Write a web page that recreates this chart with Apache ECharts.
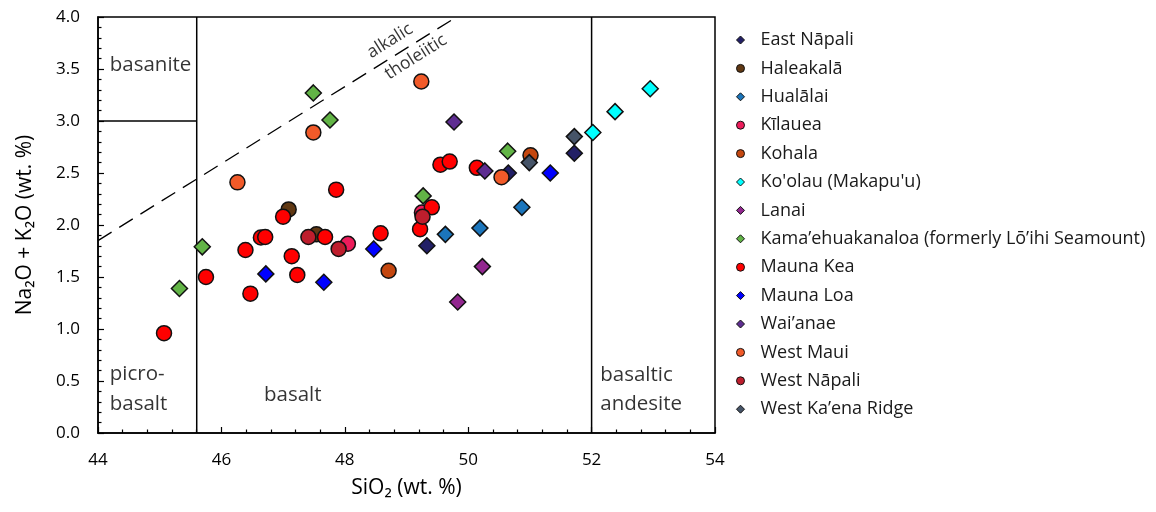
<!DOCTYPE html>
<html><head><meta charset="utf-8">
<script src="https://cdn.jsdelivr.net/npm/echarts@6/dist/echarts.min.js"></script>
<style>html,body{margin:0;padding:0;background:#fff}#c{width:1156px;height:512px}</style>
</head><body><div id="c"></div>
<script>
// ---- data ----
const seriesNames = ['East Nāpali','Haleakalā','Hualālai','Kīlauea','Kohala','Ko\'olau (Makapu\'u)','Lanai','Kama’ehuakanaloa (formerly Lō’ihi Seamount)','Mauna Kea','Mauna Loa','Wai’anae','West Maui','West Nāpali','West Ka’ena Ridge'];
const seriesSymbols = ['diamond','circle','diamond','circle','circle','diamond','diamond','diamond','circle','diamond','diamond','circle','circle','diamond'];
const seriesColors = ['#221f66','#603813','#1b75bb','#ed1c5b','#c4470f','#00ffff','#92278f','#62b446','#ff0000','#0000ff','#5e2d91','#f15a29','#be1e2d','#465468'];

const eastNapali = [[49.33,1.80],[50.65,2.50],[51.72,2.69]];
const haleakala = [[47.09,2.15],[47.54,1.91]];
const hualalai = [[49.63,1.91],[50.19,1.97],[50.87,2.17]];
const kilauea = [[48.05,1.82],[49.25,2.12]];
const kohala = [[48.71,1.56],[51.01,2.67]];
const koolau = [[52.02,2.89],[52.38,3.09],[52.95,3.31]];
const lanai = [[49.83,1.26],[50.23,1.60]];
const kamaehuakanaloa = [[45.32,1.39],[45.69,1.79],[47.49,3.27],[47.76,3.01],[49.27,2.28],[50.64,2.71]];
const maunaKea = [[45.07,0.96],[45.75,1.50],[46.39,1.76],[46.47,1.34],[46.64,1.88],[46.71,1.885],[47.00,2.08],[47.14,1.70],[47.23,1.52],[47.68,1.885],[47.86,2.34],[48.58,1.92],[49.22,1.96],[49.41,2.17],[49.55,2.58],[49.70,2.61],[50.14,2.55]];
const maunaLoa = [[46.72,1.53],[47.66,1.45],[48.47,1.77],[51.33,2.50]];
const waianae = [[49.77,2.99],[50.27,2.52]];
const westMaui = [[46.26,2.41],[47.49,2.89],[49.24,3.38],[50.54,2.46]];
const westNapali = [[47.41,1.885],[47.90,1.77],[49.26,2.08]];
const westKaena = [[50.99,2.60],[51.72,2.85]];
const seriesData = [eastNapali,haleakala,hualalai,kilauea,kohala,koolau,lanai,kamaehuakanaloa,maunaKea,maunaLoa,waianae,westMaui,westNapali,westKaena];

// field boundaries (data units)
const picroBasaltBoundary = [[45.6,0],[45.6,4]];
const basaniteBoundary = [[44,3],[45.6,3]];
const andesiteBoundary = [[52,0],[52,4]];
const alkalicDivide = [[44,1.85],[49.81,4.0]];

// axis ranges / ticks
const xRange = [44, 54], xStep = 2;
const yRange = [0, 4], yStep = 0.5;

// region labels
const fieldLabels = [
  {name:'basanite', value:[44.19,3.535]},
  {name:'picro-\nbasalt', value:[44.19,0.423]},
  {name:'basalt', value:[46.69,0.362]},
  {name:'basaltic\nandesite', value:[52.14,0.419]}
];
const divideLabels = [
  {name:'alkalic', value:[48.73,3.77]},
  {name:'tholeiitic', value:[49.15,3.615]}
];

// ---- chart ----
const FONT = 'Open Sans';
const TXT = '#000';
const chart = echarts.init(document.getElementById('c'), null, {renderer:'canvas'});
const boundaryLine = (data, dashed) => ({
  type:'line', data, symbol:'none', silent:true, z:1, animation:false,
  lineStyle:{color:'#000', width: dashed ? 1.3 : 1.5, type: dashed ? [16,9] : 'solid'}
});
const series = [
  boundaryLine(picroBasaltBoundary), boundaryLine(basaniteBoundary),
  boundaryLine(andesiteBoundary), boundaryLine(alkalicDivide, true),
  {type:'scatter', data: fieldLabels, symbolSize:0, silent:true, z:2,
   label:{show:true, position:'inside', formatter: p => p.name, align:'left', verticalAlign:'middle',
     fontFamily:FONT, fontSize:20.5, color:TXT, lineHeight:29.5}},
  {type:'scatter', data: divideLabels, symbolSize:0, silent:true, z:2,
   label:{show:true, position:'inside', formatter: p => p.name, rotate:32, align:'center', verticalAlign:'middle',
     fontFamily:FONT, fontSize:17.5, color:TXT}}
];
seriesNames.forEach((n,i) => {
  series.push({
    name:n, type:'scatter', data: seriesData[i], symbol: seriesSymbols[i],
    symbolSize: seriesSymbols[i]==='circle' ? 15 : 16, z:3+i,
    itemStyle:{color: seriesColors[i], borderColor:'#111', borderWidth:1.5, opacity:1},
    emphasis:{disabled:true}
  });
});

chart.setOption({
  animation:false,
  backgroundColor:'#fff',
  grid:{left:98, right:441, top:17, bottom:79, show:true, borderColor:'#000', borderWidth:1.5, backgroundColor:'transparent'},
  legend:{
    data: seriesNames, orient:'vertical', left:731, top:25,
    itemWidth:8, itemHeight:8, itemGap:8.4, selectedMode:false,
    itemStyle:{borderWidth:1},
    textStyle:{fontFamily:FONT, fontSize:18, color:'#1a1a1a', lineHeight:20, padding:[0,0,0,11]}
  },
  xAxis:{
    type:'value', min:xRange[0], max:xRange[1], interval:xStep,
    name:'SiO₂ (wt. %)', nameLocation:'middle', nameGap:45,
    nameTextStyle:{fontFamily:FONT, fontSize:21, color:TXT},
    axisLine:{show:true, onZero:false, lineStyle:{color:'#000', width:1.5}},
    axisTick:{show:true, inside:true, length:6, lineStyle:{color:'#000', width:1.2}},
    minorTick:{show:true, splitNumber:5, length:3.5, lineStyle:{color:'#000', width:1.2}},
    axisLabel:{margin:19, fontFamily:FONT, fontSize:17, color:TXT},
    splitLine:{show:false}
  },
  yAxis:{
    type:'value', min:yRange[0], max:yRange[1], interval:yStep,
    name:'Na₂O + K₂O (wt. %)', nameLocation:'middle', nameGap:62,
    nameTextStyle:{fontFamily:FONT, fontSize:21, color:TXT},
    axisLine:{show:true, onZero:false, lineStyle:{color:'#000', width:1.5}},
    axisTick:{show:true, inside:true, length:6, lineStyle:{color:'#000', width:1.2}},
    minorTick:{show:true, splitNumber:5, length:3.5, lineStyle:{color:'#000', width:1.2}},
    axisLabel:{margin:18, fontFamily:FONT, fontSize:17, color:TXT, formatter: v => v.toFixed(1)},
    splitLine:{show:false}
  },
  series
});
</script></body></html>
